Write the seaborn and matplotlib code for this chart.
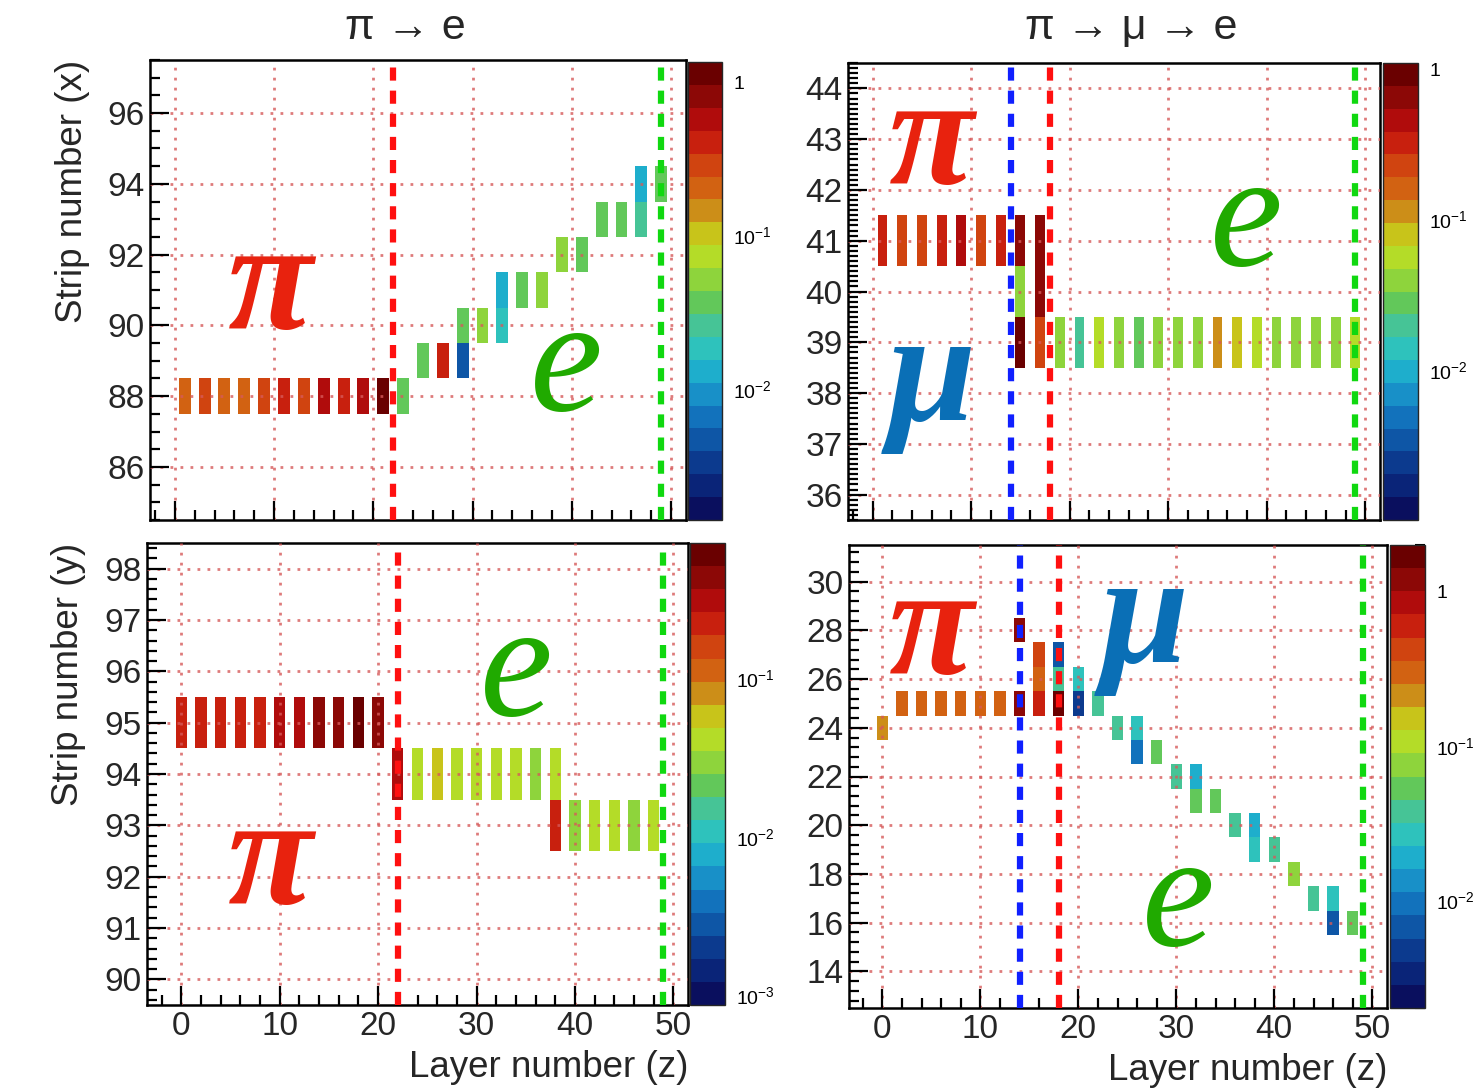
import numpy as np
import pandas as pd
import matplotlib
matplotlib.use("Agg")
import matplotlib.pyplot as plt
import seaborn as sns
from matplotlib.colors import ListedColormap, LogNorm
from matplotlib.cm import ScalarMappable
from matplotlib.ticker import MultipleLocator, FixedLocator, FixedFormatter, LogLocator, NullFormatter

# ---------------- data ----------------
# top-left: pi -> e, strip (x)
tl_layer = [1, 3, 5, 7, 9, 11, 13, 15, 17, 19, 21,
            23, 25, 27, 29, 29, 31, 33, 33, 35, 37, 39, 41, 43, 45, 47, 47, 49]
tl_strip = [88] * 11 + [88, 89, 89, 90, 89, 90, 91, 90, 91, 91, 92, 92, 93, 93, 94, 93, 94]
tl_edep = [0.20, 0.29, 0.20, 0.21, 0.28, 0.40, 0.29, 0.57, 0.41, 0.58, 1.12,
           0.037, 0.037, 0.40, 0.036, 0.0047, 0.052, 0.013, 0.018, 0.037, 0.052,
           0.052, 0.037, 0.037, 0.037, 0.013, 0.026, 0.037]

# top-right: pi -> mu -> e, strip (x)
tr_layer = [1, 3, 5, 7, 9, 11, 13, 15, 15, 15, 17, 17, 17,
            19, 21, 23, 25, 27, 29, 31, 33, 35, 37, 39, 41, 43, 45, 47, 49]
tr_strip = [41] * 8 + [40, 39, 41, 40, 39] + [39] * 16
tr_edep = [0.32, 0.23, 0.22, 0.33, 0.45, 0.24, 0.31, 0.65, 0.040, 0.92, 0.66, 0.64, 0.23,
           0.040, 0.021, 0.056, 0.040, 0.028, 0.040, 0.041, 0.040, 0.113, 0.080, 0.057,
           0.040, 0.040, 0.039, 0.040, 0.056]

# bottom-left: pi -> e, strip (y)
bl_layer = [0, 2, 4, 6, 8, 10, 12, 14, 16, 18, 20, 22,
            24, 26, 28, 30, 32, 34, 36, 38, 38, 40, 42, 44, 46, 48]
bl_strip = [95] * 11 + [94] + [94] * 8 + [93] + [93] * 5
bl_edep = [0.22, 0.23, 0.22, 0.21, 0.22, 0.31, 0.32, 0.43, 0.44, 0.61, 0.45, 0.30,
           0.041, 0.058, 0.042, 0.041, 0.040, 0.041, 0.030, 0.041, 0.22,
           0.030, 0.041, 0.042, 0.030, 0.041]

# bottom-right: pi -> mu -> e, strip (y)
br_layer = [0, 2, 4, 6, 8, 10, 12, 14, 14, 16, 16, 16, 18, 18, 18, 20, 20, 22, 24, 26, 26,
            28, 30, 32, 32, 34, 36, 38, 38, 40, 42, 44, 46, 46, 48]
br_strip = [24, 25, 25, 25, 25, 25, 25, 25, 28, 25, 26, 27, 25, 26, 27, 26, 25, 25, 24, 24, 23,
            23, 22, 22, 21, 21, 20, 20, 19, 19, 18, 17, 17, 16, 16]
br_edep = [0.21, 0.30, 0.30, 0.29, 0.30, 0.31, 0.30, 1.2, 1.18, 0.60, 0.30, 0.42, 1.7, 0.038,
           0.0067, 0.027, 0.0048, 0.038, 0.037, 0.027, 0.011, 0.054, 0.038, 0.019, 0.053,
           0.055, 0.037, 0.019, 0.027, 0.038, 0.075, 0.038, 0.027, 0.0067, 0.053]

# colour (z) axis ranges
tl_zrange = (1.4e-3, 1.35)
tr_zrange = (1.0e-3, 1.1)
bl_zrange = (8.7e-4, 0.718)
br_zrange = (2.0e-3, 2.01)

# decay layers (dashed markers)
tl_pi_decay, tl_e_end = 22, 49
tr_mu_start, tr_pi_decay, tr_e_end = 14, 18, 49
bl_pi_decay, bl_e_end = 22, 49
br_mu_start, br_pi_decay, br_e_end = 14, 18, 49

titles = ["π → e", "π → μ → e"]
ylabels = ["Strip number (x)", "Strip number (y)"]
xlabel = "Layer number (z)"

# ---------------- style ----------------
sns.set_theme(style="ticks")
plt.rcParams['font.family'] = ['Liberation Sans', 'DejaVu Sans']
plt.rcParams['mathtext.fontset'] = 'custom'
plt.rcParams['mathtext.rm'] = 'Liberation Sans'
plt.rcParams['mathtext.it'] = 'Liberation Sans:italic'
plt.rcParams['axes.linewidth'] = 1.8

band_colors = ["#0a0f5e", "#0a2478", "#0c3a8e", "#0e56a6", "#1272bc", "#1890c8", "#1eaecc",
               "#2ec2bc", "#46c496", "#62c85a", "#8ed43c", "#b4dc28", "#c8c41a", "#cc8e18",
               "#d26212", "#d04410", "#c8200e", "#b00c0c", "#8c0806", "#6a0000"]
cmap = ListedColormap(band_colors)

W, H = 1481, 1089
fig = plt.figure(figsize=(W / 100, H / 100), dpi=100)


def rect(l, t, r, b):
    return [l / W, 1 - b / H, (r - l) / W, (b - t) / H]


GRID_C = "#d65a5a"
TICK_FS = 24
LABEL_FS = 26.5


def panel(ax_rect, cb_rect, layer, strip, edep, zrange, xlim, ylim, ymaj, ymin_, cell_w,
          vlines, show_xlabels, ylabel, cb_ticks):
    ax = fig.add_axes(rect(*ax_rect))
    df = pd.DataFrame({"layer": layer, "strip": strip, "edep": edep})
    norm = LogNorm(vmin=zrange[0], vmax=zrange[1])
    cols = cmap(norm(df["edep"].values))
    ax.bar(df["layer"], 1.0, bottom=df["strip"] - 0.5, width=cell_w, color=cols,
           linewidth=0, zorder=1)
    ax.set_xlim(*xlim)
    ax.set_ylim(*ylim)
    ax.xaxis.set_major_locator(MultipleLocator(10))
    ax.xaxis.set_minor_locator(MultipleLocator(2))
    ax.yaxis.set_major_locator(MultipleLocator(ymaj))
    ax.yaxis.set_minor_locator(MultipleLocator(ymin_))
    ax.set_axisbelow(False)
    ax.grid(True, which="major", color=GRID_C, ls=(0, (1, 2.6)), lw=2.0, alpha=0.8)
    ax.tick_params(which="both", direction="in", top=False, right=False, width=1.6,
                   color="black", labelsize=TICK_FS, pad=4)
    ax.tick_params(which="major", length=14)
    ax.tick_params(which="minor", length=7)
    if not show_xlabels:
        ax.tick_params(labelbottom=False)
    else:
        ax.set_xlabel(xlabel, fontsize=LABEL_FS, loc="right")
        ax.xaxis.set_label_coords(1.0, -0.098)
    if ylabel:
        ax.set_ylabel(ylabel, fontsize=LABEL_FS, loc="top")
        ax.yaxis.set_label_coords(-0.112, 1.0)
    for xv, c in vlines:
        ax.axvline(xv, color=c, ls=(0, (2.1, 1.6)), lw=4.5, zorder=4)
    for s in ax.spines.values():
        s.set_color("black")
    # colour bar
    cax = fig.add_axes(rect(*cb_rect))
    sm = ScalarMappable(norm=norm, cmap=cmap)
    cb = fig.colorbar(sm, cax=cax)
    cb.outline.set_linewidth(1.0)
    cax.yaxis.set_ticks_position("right")
    vals, labs = cb_ticks
    cax.yaxis.set_major_locator(FixedLocator(vals))
    cax.yaxis.set_major_formatter(FixedFormatter(labs))
    cax.yaxis.set_minor_locator(LogLocator(base=10, subs=np.arange(2, 10)))
    cax.yaxis.set_minor_formatter(NullFormatter())
    cax.tick_params(which="both", direction="in", right=True, left=False, width=1.5,
                    labelsize=14, colors="black", pad=8)
    cax.tick_params(which="major", length=13)
    cax.tick_params(which="minor", length=7)
    return ax


lab1 = [1.0, 0.1, 0.01]
lab1s = ["1", r"$\mathregular{10^{-1}}$", r"$\mathregular{10^{-2}}$"]
lab2 = [0.1, 0.01, 0.001]
lab2s = [r"$\mathregular{10^{-1}}$", r"$\mathregular{10^{-2}}$", r"$\mathregular{10^{-3}}$"]

panel((150, 60, 686, 520), (688, 62, 722, 520), tl_layer, tl_strip, tl_edep, tl_zrange,
      (-2.5, 51.5), (84.5, 97.5), 2, 0.5, 1.2,
      [(tl_pi_decay, "#ff1010"), (tl_e_end, "#10d810")], False, ylabels[0], (lab1, lab1s))
panel((848, 63, 1380, 520), (1383, 63, 1418, 520), tr_layer, tr_strip, tr_edep, tr_zrange,
      (-2.5, 51.5), (35.5, 44.5), 1, 0.1, 1.0,
      [(tr_mu_start, "#1020ff"), (tr_pi_decay, "#ff1010"), (tr_e_end, "#10d810")],
      False, None, (lab1, lab1s))
panel((147, 543, 688, 1005), (690, 543, 725, 1005), bl_layer, bl_strip, bl_edep, bl_zrange,
      (-3.5, 51.5), (89.5, 98.5), 1, 0.2, 1.15,
      [(bl_pi_decay, "#ff1010"), (bl_e_end, "#10d810")], True, ylabels[1], (lab2, lab2s))
panel((849, 545, 1387, 1008), (1390, 545, 1425, 1008), br_layer, br_strip, br_edep, br_zrange,
      (-3.4, 51.5), (12.5, 31.5), 2, 0.4, 1.15,
      [(br_mu_start, "#1020ff"), (br_pi_decay, "#ff1010"), (br_e_end, "#10d810")],
      True, None, (lab1, lab1s))

# titles
fig.text(405 / W, 1 - 28 / H, titles[0], fontsize=31, ha="center", va="center")
fig.text(1131 / W, 1 - 28 / H, titles[1], fontsize=31, ha="center", va="center")

# particle labels
RED, GREEN, BLUE = "#e8220e", "#20aa00", "#0a6fb6"
labels = [
    ("π", RED, 270, 328, 112, "bold"), ("e", GREEN, 566, 410, 118, "normal"),
    ("π", RED, 931, 183, 112, "bold"), ("μ", BLUE, 932, 420, 114, "bold"),
    ("e", GREEN, 1246, 265, 118, "normal"),
    ("e", GREEN, 516, 715, 118, "normal"), ("π", RED, 270, 903, 112, "bold"),
    ("π", RED, 931, 673, 112, "bold"), ("μ", BLUE, 1145, 662, 114, "bold"),
    ("e", GREEN, 1178, 945, 118, "normal"),
]
for t, c, x, y, fs, wt in labels:
    fig.text(x / W, 1 - y / H, t, fontsize=fs, color=c, ha="center", va="baseline",
             family=["Liberation Serif", "DejaVu Serif"], style="italic", weight=wt)

fig.savefig("out.png", dpi=100)
